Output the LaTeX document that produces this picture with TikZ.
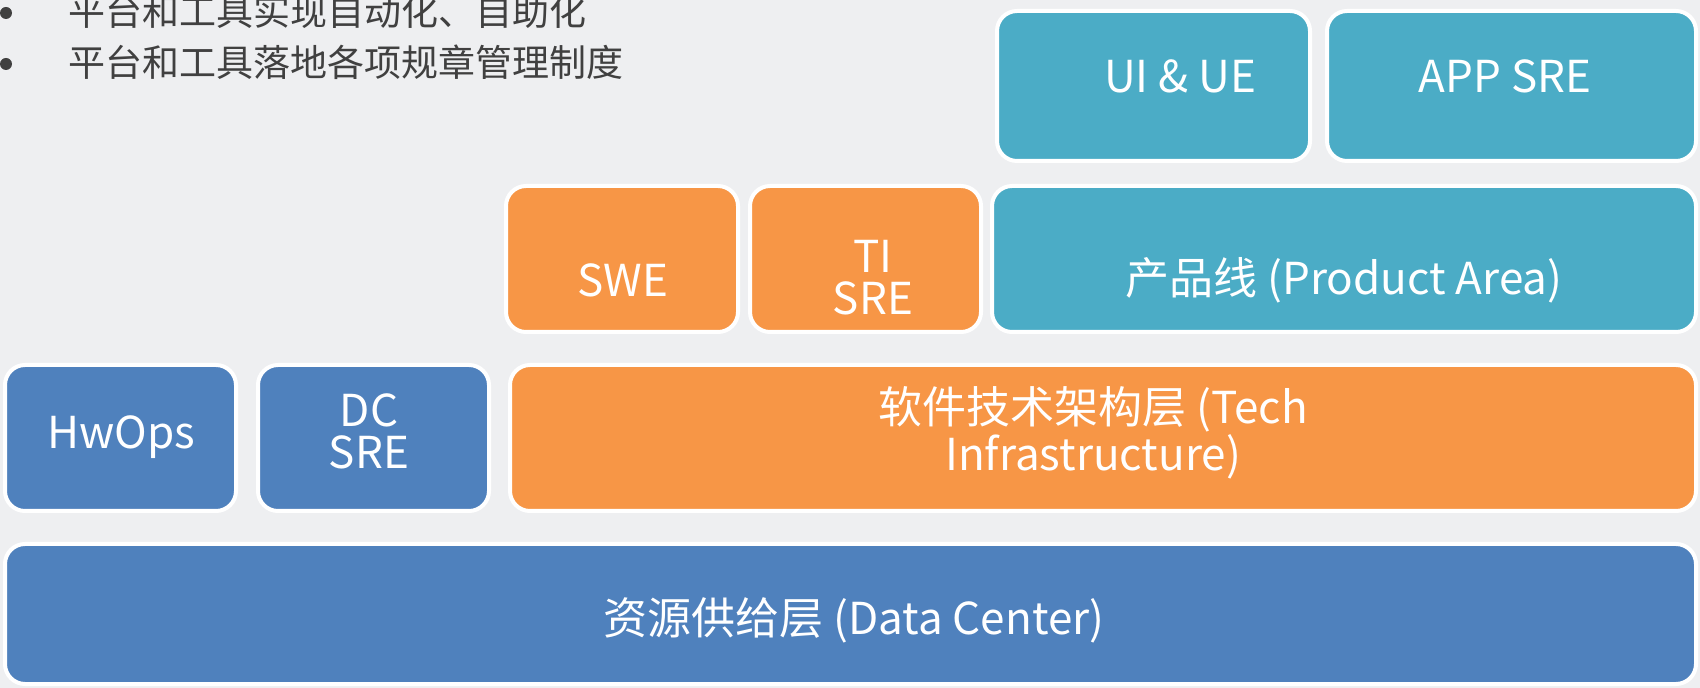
\documentclass[tikz,border=0pt]{standalone}
\usepackage{fontspec}
\setmainfont{Noto Sans CJK SC}
\usepackage{tikz}
\usetikzlibrary{calc,positioning}
\definecolor{bgGray}{HTML}{EEEFF1}
\definecolor{dcBlue}{HTML}{4F81BD}
\definecolor{tiOrange}{HTML}{F79646}
\definecolor{paTeal}{HTML}{4BACC6}
\definecolor{txtGray}{HTML}{404040}
\tikzset{
  layerbox/.style={draw=white, line width=2pt, rounded corners=10pt, fill=#1, inner sep=0pt},
  boxtext/.style={text=white, font=\fontsize{22}{21}\selectfont, align=center, inner sep=0pt},
  bullettext/.style={text=txtGray, font=\fontsize{18.5}{18.5}\selectfont, anchor=west, inner sep=0pt},
  bulletdot/.style={circle, fill=txtGray, inner sep=0pt, minimum size=6pt}
}
\begin{document}
\begin{tikzpicture}[x=0.5pt, y=-0.5pt]
    \fill[bgGray] (0,0) rectangle (1700,688);
    \useasboundingbox (0,0) rectangle (1700,688);
    % bullets
    \node[bulletdot] (dotA) at (6,13) {};
    \node[bullettext] (lineA) at (68,11) {平台和工具实现自动化、自助化};
    \node[bulletdot] (dotB) at (6,64) {};
    \node[bullettext] (lineB) at (68,62) {平台和工具落地各项规章管理制度};
    % top row
    \node[layerbox=paTeal, minimum width=156.5pt, minimum height=75pt] (uiue) at (1153.5,86) {};
    \node[boxtext] (uiueText) at (1180,76) {UI \& UE};
    \node[layerbox=paTeal, minimum width=184.5pt, minimum height=75pt] (appsre) at (1511.5,86) {};
    \node[boxtext] (appsreText) at (1505,76) {APP SRE};
    % second row
    \node[layerbox=tiOrange, minimum width=116pt, minimum height=73pt] (swe) at (622,259) {};
    \node[boxtext] (sweText) at (623,280) {SWE};
    \node[layerbox=tiOrange, minimum width=115.5pt, minimum height=73pt] (tisre) at (865.5,259) {};
    \node[boxtext] (tisreText) at (873,278) {TI\\SRE};
    \node[layerbox=paTeal, minimum width=352pt, minimum height=73pt] (product) at (1344,259) {};
    \node[boxtext] (productText) at (1344,280) {产品线 (Product Area)};
    % third row
    \node[layerbox=dcBlue, minimum width=115.5pt, minimum height=73pt] (hwops) at (120.5,438) {};
    \node[boxtext] (hwopsText) at (121,437) {HwOps};
    \node[layerbox=dcBlue, minimum width=115.5pt, minimum height=73pt] (dcsre) at (373.5,438) {};
    \node[boxtext] (dcsreText) at (369,431) {DC\\SRE};
    \node[layerbox=tiOrange, minimum width=593pt, minimum height=73pt] (tech) at (1103,438) {};
    \node[boxtext] (techText) at (1093,433) {软件技术架构层 (Tech\\Infrastructure)};
    % bottom layer
    \node[layerbox=dcBlue, minimum width=845.5pt, minimum height=70pt] (datacenter) at (850.5,614) {};
    \node[boxtext] (datacenterText) at (854,620) {资源供给层 (Data Center)};
\end{tikzpicture}
\end{document}
